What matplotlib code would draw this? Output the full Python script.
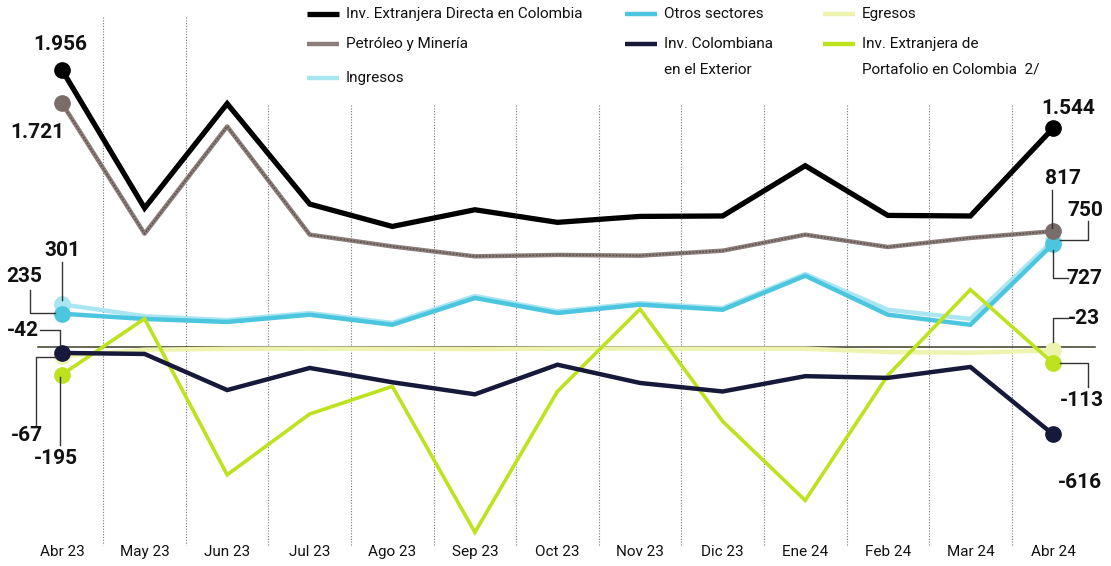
import matplotlib
matplotlib.use("Agg")
import matplotlib.pyplot as plt

plt.rcParams['font.family'] = ['Roboto', 'DejaVu Sans']

months = ["Abr 23", "May 23", "Jun 23", "Jul 23", "Ago 23", "Sep 23", "Oct 23",
          "Nov 23", "Dic 23", "Ene 24", "Feb 24", "Mar 24", "Abr 24"]
ied = [1956, 981, 1718, 1009, 851, 969, 880, 922, 925, 1280, 929, 925, 1544]
petroleo = [1721, 800, 1557, 793, 710, 640, 650, 645, 680, 793, 706, 770, 817]
ingresos = [301, 217, 190, 240, 170, 360, 252, 310, 275, 515, 263, 198, 750]
otros = [235, 198, 177, 228, 157, 346, 240, 299, 263, 503, 228, 157, 727]
egresos = [-67, -19, -13, -12, -13, -14, -12, -11, -12, -12, -35, -41, -23]
col_ext = [-42, -49, -304, -148, -249, -334, -125, -254, -314, -206, -218, -141, -616]
portafolio = [-195, 200, -902, -473, -278, -1308, -313, 268, -525, -1083, -200, 405, -113]

W, H = 1111, 566
fig = plt.figure(figsize=(W / 100, H / 100), dpi=100)
fig.patch.set_facecolor('white')
ax = fig.add_axes([0, 0, 1, 1])
ax.axis('off')

X0, DX = 62.0, 82.58       # pixel of first category, pixel step
Y0, UPP = 347.0, 7.06      # pixel of zero, units per pixel
ax.set_xlim(-X0 / DX, (W - X0) / DX)
ax.set_ylim(-(H - Y0) * UPP, Y0 * UPP)

def px(xp, yp):
    return ((xp - X0) / DX, (Y0 - yp) * UPP)

xs = list(range(len(months)))

# vertical dotted separators
for i in range(len(months) - 1):
    xm = i + 0.5
    top = 17 if i < 2 else 105
    ax.plot([xm, xm], [px(0, top)[1], px(0, 545)[1]], color='#777777',
            lw=0.8, ls=(0, (1, 1.5)), zorder=1)

# zero line
ax.plot([px(38, 0)[0], px(1095, 0)[0]], [0, 0], color='#3a3a2a', lw=1.1, zorder=2)

def series(vals, color, lw, z, ms=11, mcolor=None):
    ax.plot(xs, vals, color=color, lw=lw, solid_joinstyle='miter', zorder=z)
    ax.plot([xs[0], xs[-1]], [vals[0], vals[-1]], 'o', color=mcolor or color,
            ms=ms, zorder=z + 0.5)

series(egresos, '#eef4b0', 3.2, 3)
series(ingresos, '#a9e6f2', 3.2, 4)
series(otros, '#4cc6de', 3.2, 5)
series(portafolio, '#bde21e', 2.6, 6)
series(col_ext, '#16193a', 3.2, 7)
ax.plot(xs, petroleo, color='#8c7e7b', lw=3.2, zorder=8)
ax.plot(xs, petroleo, color='#5d504d', lw=1.2, ls=(0, (1, 1)), zorder=8.2)
ax.plot([xs[0], xs[-1]], [petroleo[0], petroleo[-1]], 'o', color='#7a6c69', ms=11, zorder=8.5)
series(ied, '#000000', 3.8, 9)

# labels
bold = dict(fontsize=15, fontweight='bold', color='#111111', zorder=12)
def lab(xp, yp, s, ha='center'):
    ax.text(*px(xp, yp), s, ha=ha, va='center', **bold)

def lead(pts):
    xx = [px(a, b)[0] for a, b in pts]
    yy = [px(a, b)[1] for a, b in pts]
    ax.plot(xx, yy, color='#333333', lw=1.0, zorder=11)

lab(60, 44, f"{ied[0]/1000:.3f}")
lab(37, 133, f"{petroleo[0]/1000:.3f}")
lab(62, 250, str(ingresos[0]))
lead([(62, 262), (62, 300)])
lab(24, 277, str(otros[0]))
lead([(30, 290), (30, 313), (55, 313)])
lab(23, 331, str(col_ext[0]))
lead([(40, 330), (60, 330), (60, 346)])
lab(27, 436, str(egresos[0]))
lead([(36, 425), (36, 357), (55, 357)])
lab(56, 459, str(portafolio[0]))
lead([(60, 377), (60, 445)])

lab(1068, 109, f"{ied[-1]/1000:.3f}")
lab(1063, 178, str(petroleo[-1]))
lead([(1052, 190), (1052, 228)])
lab(1085, 211, str(ingresos[-1]))
lead([(1088, 221), (1088, 240), (1060, 240)])
lab(1084, 278, str(otros[-1]))
lead([(1053, 250), (1053, 278), (1068, 278)])
lab(1084, 318, str(egresos[-1]))
lead([(1053, 342), (1053, 318), (1068, 318)])
lab(1082, 400, str(portafolio[-1]))
lead([(1060, 363), (1088, 363), (1088, 387)])
lab(1080, 482, str(col_ext[-1]))

# x labels
for i, m in enumerate(months):
    ax.text(i, px(0, 552)[1], m, ha='center', va='center', fontsize=11, color='#111111')

# legend
legend_items = [
    (307, 14, '#000000', 3.8, "Inv. Extranjera Directa en Colombia", None),
    (307, 44, '#8c7e7b', 3.2, "Petróleo y Minería", None),
    (307, 78, '#a9e6f2', 3.2, "Ingresos", None),
    (625, 14, '#4cc6de', 3.2, "Otros sectores", None),
    (625, 44, '#16193a', 3.2, "Inv. Colombiana", "en el Exterior"),
    (823, 14, '#eef4b0', 3.2, "Egresos", None),
    (823, 44, '#bde21e', 3.2, "Inv. Extranjera de", "Portafolio en Colombia  2/"),
]
for xh, yh, c, lw, t1, t2 in legend_items:
    ax.plot([px(xh, 0)[0], px(xh + 32, 0)[0]], [px(0, yh)[1]] * 2, color=c, lw=lw,
            solid_capstyle='butt', zorder=10)
    ax.text(*px(xh + 39, yh), t1, ha='left', va='center', fontsize=11, color='#111111')
    if t2:
        ax.text(*px(xh + 39, yh + 26), t2, ha='left', va='center', fontsize=11, color='#111111')

fig.savefig('out.png', dpi=100, facecolor='white')
